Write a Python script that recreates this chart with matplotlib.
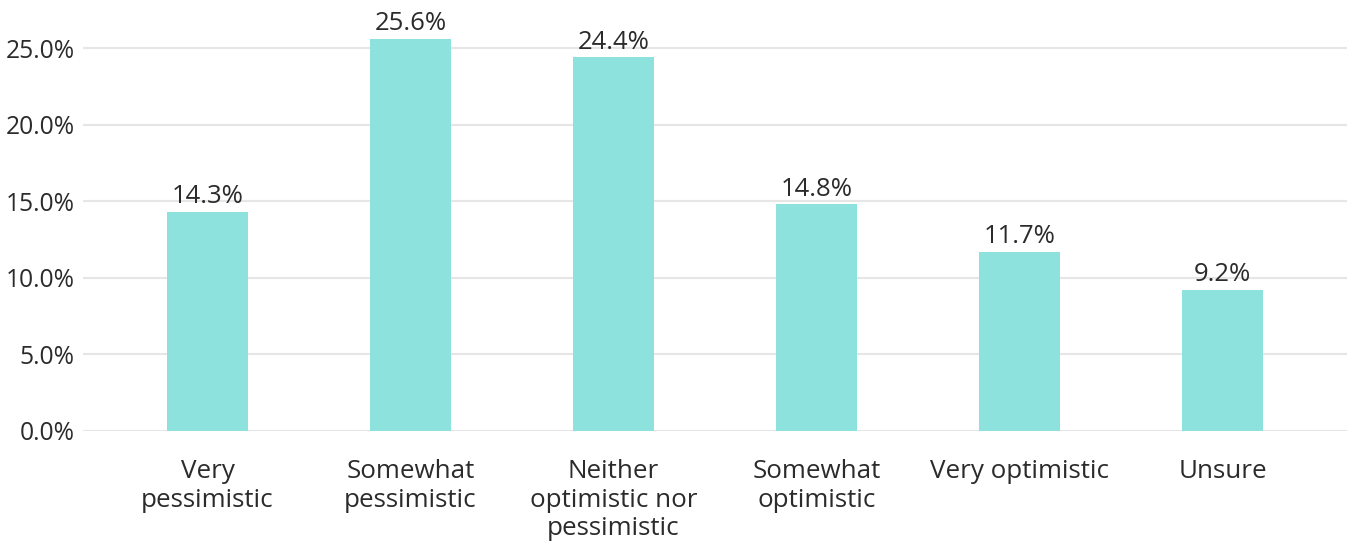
import matplotlib.pyplot as plt
import numpy as np

plt.rcParams['font.family'] = ['Open Sans', 'DejaVu Sans']

# Datos
categorias = ["Very\npessimistic", "Somewhat\npessimistic", "Neither\noptimistic nor\npessimistic",
              "Somewhat\noptimistic", "Very optimistic", "Unsure"]
valores = [14.3, 25.6, 24.4, 14.8, 11.7, 9.2]
ticks_y = [0, 5, 10, 15, 20, 25]

color_barra = '#8de2dd'
color_texto = '#2b2b2b'

fig = plt.figure(figsize=(13.54, 5.44), dpi=100)
ax = fig.add_axes([83 / 1354, 113 / 544, 1264 / 1354, 421 / 544])

x = np.arange(len(categorias))
barras = ax.bar(x, valores, width=0.4, color=color_barra, zorder=2)

for xi, v in zip(x, valores):
    ax.annotate(f"{v:.1f}%", (xi, v), xytext=(0, 2), textcoords='offset points',
                ha='center', va='bottom', fontsize=18.5, color=color_texto)

ax.set_xlim(-0.5 - 23 / 203, 5.5 + 23 / 203)
ax.set_ylim(0, 27.5)
ax.set_yticks(ticks_y)
ax.set_yticklabels([f"{t:.1f}%" for t in ticks_y], fontsize=17.7, color=color_texto)
ax.set_xticks(x)
ax.set_xticklabels(categorias, fontsize=18.7, color=color_texto, linespacing=1.2, va='top')

ax.grid(axis='y', color='#e6e6e6', linewidth=1.5, zorder=0)
ax.set_axisbelow(True)
ax.tick_params(axis='both', length=0)
ax.tick_params(axis='x', pad=20)
ax.tick_params(axis='y', pad=6)
for s in ax.spines.values():
    s.set_visible(False)

plt.savefig('out.png', dpi=100)
